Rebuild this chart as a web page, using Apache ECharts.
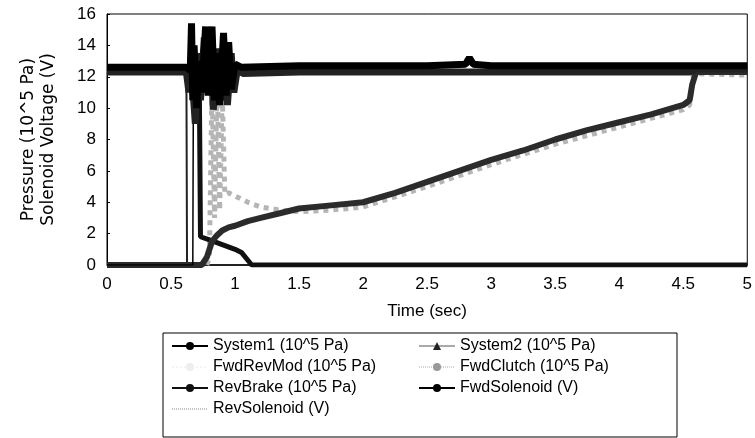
<!DOCTYPE html>
<html><head><meta charset="utf-8">
<script src="https://cdn.jsdelivr.net/npm/echarts@6/dist/echarts.min.js"></script>
<style>html,body{margin:0;padding:0;background:#fff}#c{width:755px;height:438px}</style>
</head><body><div id="c"></div>
<script>
// Tick labels
const xTicks = [0, 0.5, 1, 1.5, 2, 2.5, 3, 3.5, 4, 4.5, 5];
const yTicks = [0, 2, 4, 6, 8, 10, 12, 14, 16];
const seriesNames = ['System1 (10^5 Pa)', 'System2 (10^5 Pa)', 'FwdRevMod (10^5 Pa)', 'FwdClutch (10^5 Pa)', 'RevBrake (10^5 Pa)', 'FwdSolenoid (V)', 'RevSolenoid (V)'];

// [time (s), value]
const system1 = [[0,12.6],[0.62,12.6],[0.65,12.4],[0.66,15.4],[0.67,10.5],[0.68,14.0],[0.70,10.0],[0.72,13.0],[0.74,11.0],[0.77,15.2],[0.79,10.8],[0.82,15.2],[0.84,10.5],[0.86,13.5],[0.88,10.2],[0.91,14.8],[0.93,10.8],[0.95,14.2],[0.97,11.2],[1.0,12.8],[1.05,12.6],[1.5,12.7],[2,12.7],[2.5,12.7],[2.8,12.8],[2.83,13.2],[2.86,12.8],[3,12.7],[3.5,12.7],[4,12.7],[4.5,12.7],[5,12.7]];
const system2 = [[0,12.3],[0.62,12.3],[0.64,11.0],[0.66,12.5],[0.69,9.0],[0.71,13.5],[0.73,10.5],[0.76,14.5],[0.78,11.0],[0.81,14.2],[0.83,9.9],[0.86,13.8],[0.89,10.5],[0.92,14.0],[0.94,10.2],[0.97,13.5],[0.99,11.0],[1.02,12.6],[1.06,12.2],[1.5,12.3],[2,12.3],[3,12.3],[4,12.3],[4.55,12.3],[4.6,12.5],[5,12.5]];
const fwdRevMod = [[0,0],[0.78,0],[0.8,0.5],[0.82,11.8],[0.84,3],[0.86,12],[0.88,3.5],[0.9,11],[0.92,4.5],[0.95,4.6],[1.0,4.4],[1.1,4.0],[1.2,3.7],[1.35,3.5],[1.5,3.4],[1.75,3.5],[2,3.7],[2.5,5.0],[3,6.4],[3.5,7.7],[4,8.8],[4.5,9.9],[4.55,10.2],[4.58,12.2],[5,12.1]];
const fwdClutch = [[0,0],[0.74,0],[0.78,0.5],[0.82,1.5],[0.86,1.9],[0.9,2.2],[0.95,2.4],[1.0,2.5],[1.1,2.8],[1.2,3.0],[1.35,3.3],[1.5,3.6],[1.75,3.8],[2,4.0],[2.25,4.6],[2.5,5.3],[2.75,6.0],[3,6.7],[3.25,7.3],[3.5,8.0],[3.75,8.6],[4,9.1],[4.25,9.6],[4.5,10.2],[4.55,10.5],[4.57,11.5],[4.6,12.3],[5,12.3]];
const revBrake = [[0,12.5],[0.72,12.5],[0.73,1.8],[0.8,1.6],[0.9,1.3],[1.0,1.0],[1.05,0.8],[1.1,0.3],[1.13,0],[5,0]];
const fwdSolenoid = [[0,0],[0.67,0],[0.675,12.4],[5,12.4]];
const revSolenoid = [[0,12.4],[0.62,12.4],[0.625,0],[5,0]];

const font = 'Liberation Sans, Arial, sans-serif';
const titleFont = 'DejaVu Sans, Liberation Sans, sans-serif';
const chart = echarts.init(document.getElementById('c'), null, {renderer: 'canvas'});

function mk(name, data, color, width, type, symbol, z) {
  return {name, type: 'line', data, showSymbol: false, symbol, symbolSize: 5,
    lineStyle: {color, width, type}, itemStyle: {color}, z, animation: false};
}

const legendText = {fontFamily: font, fontSize: 16, color: '#000'};

chart.setOption({
  animation: false,
  grid: {left: 107, right: 6, top: 14, bottom: 173, show: true, borderColor: '#000', borderWidth: 1},
  xAxis: {type: 'value', min: 0, max: 5, interval: 0.5,
    name: 'Time (sec)', nameLocation: 'middle', nameGap: 38,
    nameTextStyle: {fontFamily: font, fontSize: 17, color: '#000'},
    axisLine: {lineStyle: {color: '#000'}}, axisTick: {show: false}, splitLine: {show: false},
    axisLabel: {fontFamily: font, fontSize: 17, color: '#000', margin: 11, formatter: v => String(xTicks.find(t => Math.abs(t - v) < 1e-9) ?? v)}},
  yAxis: {type: 'value', min: 0, max: 16, interval: 2,
    name: 'Pressure (10^5 Pa)\nSolenoid Voltage (V)', nameLocation: 'middle', nameRotate: 90, nameGap: 48,
    nameTextStyle: {fontFamily: titleFont, fontSize: 17, color: '#000', lineHeight: 20},
    axisLine: {lineStyle: {color: '#000'}}, axisTick: {inside: true, length: 3, lineStyle: {color: '#000'}}, splitLine: {show: false},
    axisLabel: {fontFamily: font, fontSize: 17, color: '#000', margin: 11, formatter: v => String(yTicks.find(t => t === v) ?? v)}},
  legend: [
    {orient: 'vertical', left: 166, top: 333, itemWidth: 36, itemHeight: 10, itemGap: 5,
      textStyle: legendText,
      data: [seriesNames[0], {name: seriesNames[2], itemStyle: {color: '#eee'}, lineStyle: {color: '#f4f4f4'}}, seriesNames[4],
        {name: seriesNames[6], itemStyle: {color: '#666'}, lineStyle: {color: '#888', type: 'dotted', width: 1}}]},
    {orient: 'vertical', left: 413, top: 333, itemWidth: 36, itemHeight: 10, itemGap: 5,
      textStyle: legendText,
      data: [{name: seriesNames[1], lineStyle: {color: '#555', width: 1}}, {name: seriesNames[3], itemStyle: {color: '#999'}, lineStyle: {color: '#aaa', type: 'dotted', width: 1}}, seriesNames[5]]}
  ],
  graphic: [{type: 'rect', shape: {x: 163, y: 333, width: 514, height: 104}, style: {fill: 'none', stroke: '#000', lineWidth: 1}, silent: true}],
  series: [
    mk(seriesNames[6], revSolenoid, '#222', 2, 'solid', 'path://M-1,0L1,0M0,-1L0,1', 2),
    mk(seriesNames[2], fwdRevMod, '#b5b5b5', 5, 'dotted', 'circle', 3),
    mk(seriesNames[4], revBrake, '#111', 5, 'solid', 'circle', 4),
    mk(seriesNames[3], fwdClutch, '#2b2b2b', 6, 'solid', 'circle', 5),
    mk(seriesNames[5], fwdSolenoid, '#000', 1.5, 'solid', 'none', 6),
    mk(seriesNames[1], system2, '#222', 7, 'solid', 'triangle', 7),
    mk(seriesNames[0], system1, '#000', 7, 'solid', 'circle', 8)
  ]
});
</script></body></html>
